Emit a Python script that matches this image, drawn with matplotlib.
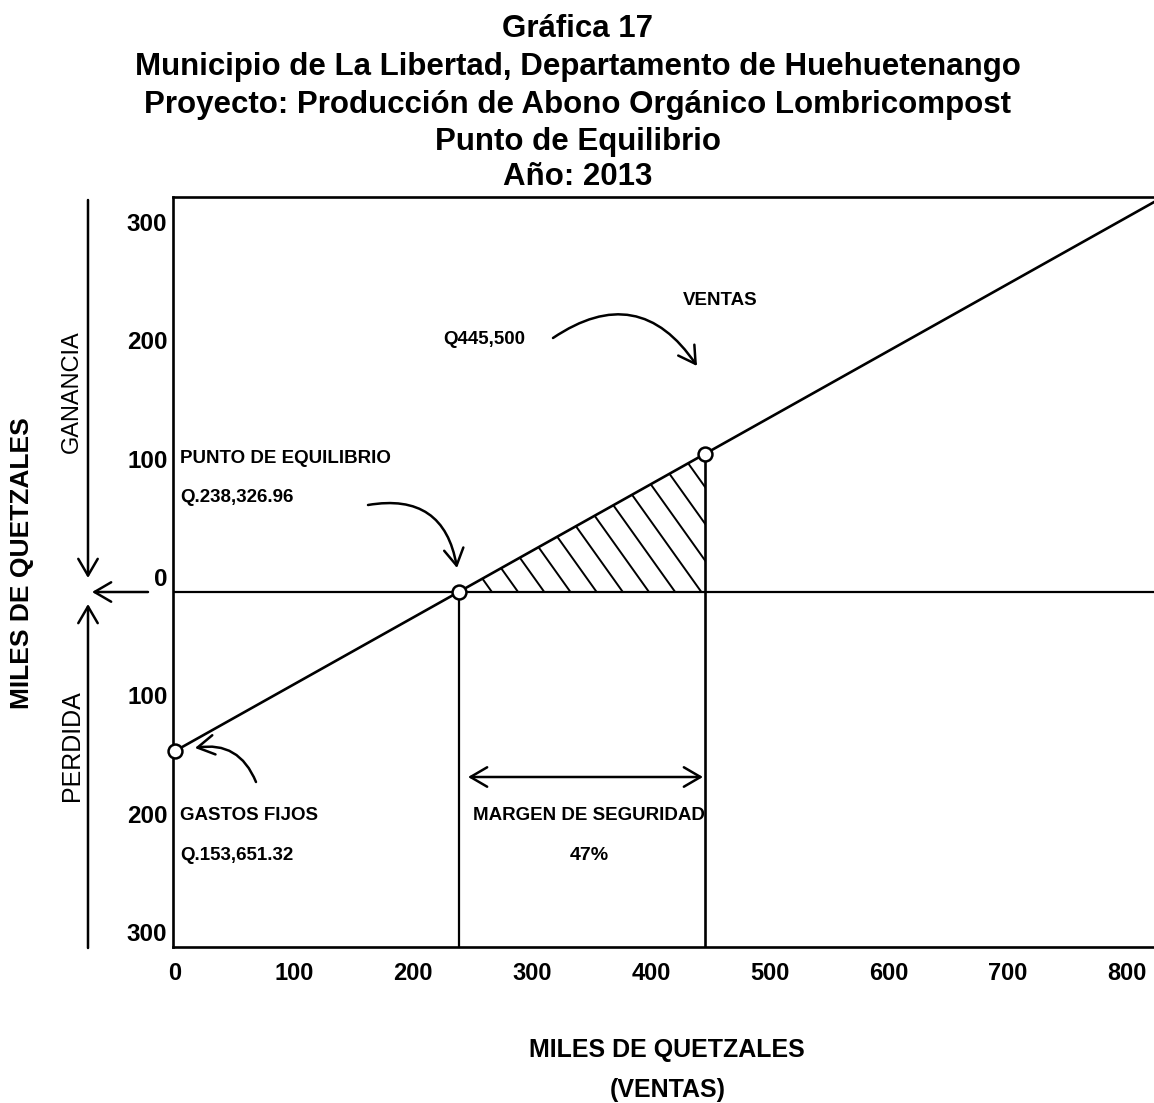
import numpy as np
import matplotlib
matplotlib.use("Agg")
import matplotlib.pyplot as plt
from matplotlib.patches import Polygon

# ---------------- data (miles de quetzales) ----------------
fixed_costs = 153.65132        # Gastos fijos
breakeven_sales = 238.32696    # Punto de equilibrio
sales = 445.5                  # Ventas
safety_margin_pct = 47         # Margen de seguridad

x_tick_values = [0, 100, 200, 300, 400, 500, 600, 700, 800]
x_tick_labels = ["0", "100", "200", "300", "400", "500", "600", "700", "800"]
y_tick_values = [300, 200, 100, 0, -100, -200, -300]
y_tick_labels = ["300", "200", "100", "0", "100", "200", "300"]

title_lines = [
    "Gráfica 17",
    "Municipio de La Libertad, Departamento de Huehuetenango",
    "Proyecto: Producción de Abono Orgánico Lombricompost",
    "Punto de Equilibrio",
    "Año: 2013",
]

cm_ratio = fixed_costs / breakeven_sales


def profit(s):
    return np.asarray(s) * cm_ratio - fixed_costs


# ---------------- layout ----------------
W, H = 1154, 1103
fig = plt.figure(figsize=(W / 100, H / 100), dpi=100)


def F(x, y):
    return (x / W, 1 - y / H)


AX_L, AX_R, AX_T, AX_B = 173, 1156, 197, 947
X0_PX, SX = 175, 1.19        # pixel of x=0, pixels per unit
Y0_PX, SY = 592, 1.035       # pixel of y=0, pixels per unit

ax = fig.add_axes([AX_L / W, 1 - AX_B / H, (AX_R - AX_L) / W, (AX_B - AX_T) / H])
xmin = -(X0_PX - AX_L) / SX
xmax = (AX_R - X0_PX) / SX
ymin = -(AX_B - Y0_PX) / SY
ymax = (Y0_PX - AX_T) / SY
ax.set_xlim(xmin, xmax)
ax.set_ylim(ymin, ymax)

FONT = ["Liberation Sans", "DejaVu Sans"]

for s in ["left", "bottom", "top"]:
    ax.spines[s].set_linewidth(1.9)
ax.spines["right"].set_visible(False)

# ticks
ax.set_xticks(x_tick_values)
ax.set_xticklabels(x_tick_labels, fontsize=17, fontweight="bold", family=FONT)
label_step, label_off = 1.143, 14.5
ax.set_yticks([v * label_step + label_off for v in y_tick_values])
ax.set_yticklabels(y_tick_labels, fontsize=17.5, fontweight="bold", family=FONT)
ax.tick_params(axis="both", length=0)
ax.tick_params(axis="x", pad=11)
ax.tick_params(axis="y", pad=4)
# nudge first x labels like the reference drawing
xt = ax.get_xticklabels()

# zero line
ax.axhline(0, color="black", lw=1.6, zorder=2)

# profit line
xs = np.array([0, xmax])
ax.plot(xs, profit(xs), color="black", lw=1.9, zorder=3, solid_capstyle="butt")

# vertical lines
ax.vlines(breakeven_sales, ymin, 0, color="black", lw=1.6, zorder=2)
ax.vlines(sales, ymin, profit(sales), color="black", lw=1.9, zorder=2)

# hatched profit area
tri = Polygon([[breakeven_sales, 0], [sales, float(profit(sales))], [sales, 0]],
              closed=True, facecolor="none", edgecolor="none")
ax.add_patch(tri)
hatch_step = 22
hatch_slope = 0.62   # x shift per unit of y
hatch_h = 300
for x0 in np.arange(breakeven_sales + 6, sales + hatch_slope * 140, hatch_step):
    ln, = ax.plot([x0, x0 - hatch_slope * hatch_h], [0, hatch_h], color="black", lw=1.4, zorder=2)
    ln.set_clip_path(tri)

# markers
pts_x = [0, breakeven_sales, sales]
ax.plot(pts_x, profit(pts_x), "o", ms=10, mfc="white", mec="black", mew=1.8,
        zorder=6, clip_on=False)

# ---------------- texts inside ----------------
tk = dict(fontsize=13.5, fontweight="bold", family=FONT, color="black")
fig.text(*F(180, 458), "PUNTO DE EQUILIBRIO", ha="left", va="center", **tk)
fig.text(*F(180, 497), "Q.238,326.96", ha="left", va="center", **tk)
fig.text(*F(443, 340), "Q445,500", ha="left", va="center", **tk)
fig.text(*F(683, 300), "VENTAS", ha="left", va="center", **tk)
fig.text(*F(180, 815), "GASTOS FIJOS", ha="left", va="center", **tk)
fig.text(*F(180, 856), "Q.153,651.32", ha="left", va="center", **tk)
fig.text(*F(589, 815), "MARGEN DE SEGURIDAD", ha="center", va="center", **tk)
fig.text(*F(589, 856), f"{safety_margin_pct}%", ha="center", va="center",
         fontsize=14, fontweight="bold", family=FONT)

arrow_kw = dict(arrowstyle="->,head_length=0.6,head_width=0.35", color="black",
                lw=1.8, mutation_scale=20, shrinkA=0, shrinkB=0)

fig_ann = dict(xycoords="figure fraction", textcoords="figure fraction")
ax.annotate("", xy=F(457, 568), xytext=F(368, 505),
            arrowprops=dict(connectionstyle="arc3,rad=-0.5", **arrow_kw), **fig_ann)
ax.annotate("", xy=F(697, 366), xytext=F(553, 338),
            arrowprops=dict(connectionstyle="arc3,rad=-0.5", **arrow_kw), **fig_ann)
ax.annotate("", xy=F(195, 748), xytext=F(256, 782),
            arrowprops=dict(connectionstyle="arc3,rad=0.4", **arrow_kw), **fig_ann)
ax.annotate("", xy=F(703, 777), xytext=F(468, 777),
            arrowprops=dict(arrowstyle="<->,head_length=0.6,head_width=0.35", color="black",
                            lw=1.8, mutation_scale=20, shrinkA=0, shrinkB=0), **fig_ann)

# ---------------- left side ----------------
fig.text(*F(22, 563), "MILES DE QUETZALES", rotation=90, ha="center", va="center",
         fontsize=19, fontweight="bold", family=FONT)
fig.text(*F(72, 392), "GANANCIA", rotation=90, ha="center", va="center",
         fontsize=17, family=FONT)
fig.text(*F(72, 746), "PERDIDA", rotation=90, ha="center", va="center",
         fontsize=18, family=FONT)
side_kw = dict(arrowstyle="->,head_length=0.6,head_width=0.35", color="black",
               lw=1.8, mutation_scale=20, shrinkA=0, shrinkB=0)
ax.annotate("", xy=F(88, 578), xytext=F(88, 200), arrowprops=side_kw, **fig_ann)
ax.annotate("", xy=F(88, 604), xytext=F(88, 948), arrowprops=side_kw, **fig_ann)
ax.annotate("", xy=F(92, 592), xytext=F(148, 592), arrowprops=side_kw, **fig_ann)

# ---------------- bottom label ----------------
fig.text(*F(667, 1050), "MILES DE QUETZALES", ha="center", va="center",
         fontsize=18, fontweight="bold", family=FONT)
fig.text(*F(668, 1090), "(VENTAS)", ha="center", va="center",
         fontsize=18, fontweight="bold", family=FONT)

# ---------------- title ----------------
baselines = [37, 75, 113, 150, 185]
for line, b in zip(title_lines, baselines):
    fig.text(*F(578, b), line, ha="center", va="baseline", fontsize=22.5,
             fontweight="bold", family=FONT)

fig.savefig("out.png", dpi=100)
